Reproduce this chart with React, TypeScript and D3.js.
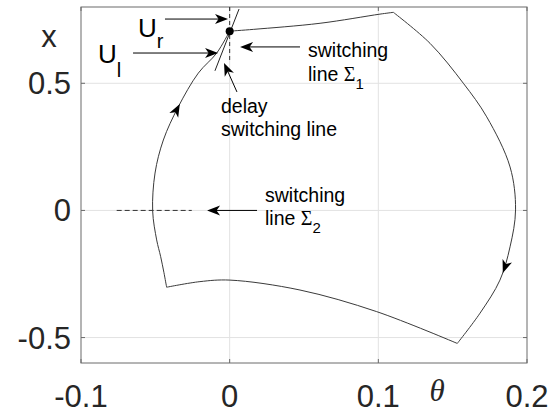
import React, { useEffect, useRef } from "react";
import * as d3 from "d3";

const W = 554;
const H = 419;

const xTicks = [-0.1, 0, 0.1, 0.2];
const xTickLabels = ["-0.1", "0", "0.1", "0.2"];
const yTicks = [-0.5, 0, 0.5];
const yTickLabels = ["-0.5", "0", "0.5"];

// trajectory segments (theta, x)
const leftArcTheta = [-0.0424, -0.0442, -0.0464, -0.0491, -0.0518, -0.0502, -0.0446, -0.0346, -0.0211, -0.0087, 0];
const leftArcX = [-0.302, -0.245, -0.182, -0.116, -0.002, 0.147, 0.277, 0.407, 0.54, 0.619, 0.705];
const topTheta = [0, 0.0159, 0.0608, 0.1011, 0.1101];
const topX = [0.705, 0.712, 0.736, 0.772, 0.779];
const rightArcTheta = [0.1101, 0.1348, 0.1572, 0.1729, 0.1886, 0.1923, 0.1886, 0.1818, 0.1684, 0.1531];
const rightArcX = [0.779, 0.657, 0.5, 0.368, 0.171, 0.002, -0.143, -0.274, -0.404, -0.523];
const bottomTheta = [0.1531, 0.0989, 0.0473, 0.0002, -0.02, -0.0424];
const bottomX = [-0.523, -0.398, -0.313, -0.274, -0.28, -0.302];

// flow direction arrowheads on the trajectory (segment index, tip position)
const flowSeg = [0, 2];
const flowTheta = [-0.0339, 0.1841];
const flowX = [0.421, -0.247];

// switching point
const pointTheta = [0];
const pointX = [0.705];

// switching lines
const sigma1Theta = [0, 0];
const sigma1X = [0.8, 0.58];
const sigma2Theta = [-0.076, -0.0255];
const sigma2X = [0, 0];
const delayTheta = [-0.0099, 0.0063];
const delayX = [0.549, 0.792];

// annotation arrows [tailTheta, tailX, tipTheta, tipX]
const annTailTheta = [-0.0435, -0.065, 0.0049, 0.0473, 0.0184];
const annTailX = [0.7526, 0.619, 0.466, 0.643, 0];
const annTipTheta = [-0.0011, -0.0078, -0.0038, 0.007, -0.0152];
const annTipX = [0.7526, 0.619, 0.58, 0.643, 0];

const FONT = "'Liberation Sans', Arial, Helvetica, sans-serif";
const SERIF = "'Liberation Serif', 'Times New Roman', serif";

export default function App() {
  const ref = useRef<SVGSVGElement>(null);

  useEffect(() => {
    const svg = d3.select(ref.current);
    svg.selectAll("*").remove();

    const left = 81, right = 527, top = 7, bottom = 363;
    const xs = d3.scaleLinear().domain([-0.1, 0.2]).range([left, right]);
    const ys = d3.scaleLinear().domain([-0.6, 0.8]).range([bottom, top]);

    svg.append("rect").attr("x", 0).attr("y", 0).attr("width", W).attr("height", H).attr("fill", "#fff");

    // grid
    const grid = svg.append("g").attr("stroke", "#e2e2e2").attr("stroke-width", 1);
    xTicks.slice(1, -1).forEach((t) => {
      grid.append("line").attr("x1", xs(t)).attr("x2", xs(t)).attr("y1", top).attr("y2", bottom);
    });
    yTicks.forEach((t) => {
      grid.append("line").attr("x1", left).attr("x2", right).attr("y1", ys(t)).attr("y2", ys(t));
    });

    // box
    svg.append("rect").attr("x", left).attr("y", top).attr("width", right - left).attr("height", bottom - top)
      .attr("fill", "none").attr("stroke", "#6a6a6a").attr("stroke-width", 1);

    // ticks inside
    const tk = svg.append("g").attr("stroke", "#6a6a6a").attr("stroke-width", 1);
    xTicks.forEach((t) => {
      tk.append("line").attr("x1", xs(t)).attr("x2", xs(t)).attr("y1", bottom).attr("y2", bottom - 4);
      tk.append("line").attr("x1", xs(t)).attr("x2", xs(t)).attr("y1", top).attr("y2", top + 4);
    });
    yTicks.forEach((t) => {
      tk.append("line").attr("x1", left).attr("x2", left + 4).attr("y1", ys(t)).attr("y2", ys(t));
      tk.append("line").attr("x1", right).attr("x2", right - 4).attr("y1", ys(t)).attr("y2", ys(t));
    });

    // tick labels
    xTicks.forEach((t, i) => {
      svg.append("text").attr("x", xs(t)).attr("y", 407).attr("text-anchor", "middle")
        .attr("font-family", FONT).attr("font-size", 31).attr("fill", "#262626").text(xTickLabels[i]);
    });
    yTicks.forEach((t, i) => {
      svg.append("text").attr("x", 71).attr("y", ys(t) + 11).attr("text-anchor", "end")
        .attr("font-family", FONT).attr("font-size", 31).attr("fill", "#262626").text(yTickLabels[i]);
    });

    // axis labels
    svg.append("text").attr("x", 49).attr("y", 47).attr("text-anchor", "middle")
      .attr("font-family", FONT).attr("font-size", 31).attr("fill", "#262626").text("x");
    svg.append("text").attr("x", 437).attr("y", 401).attr("text-anchor", "middle")
      .attr("font-family", SERIF).attr("font-style", "italic").attr("font-size", 31).attr("fill", "#262626").text("θ");

    // trajectory
    const line = d3.line<[number, number]>().x((d) => xs(d[0])).y((d) => ys(d[1])).curve(d3.curveCatmullRom.alpha(0.5));
    const segs: [number[], number[]][] = [
      [leftArcTheta, leftArcX],
      [topTheta, topX],
      [rightArcTheta, rightArcX],
      [bottomTheta, bottomX],
    ];
    const paths: SVGPathElement[] = [];
    segs.forEach(([th, xv]) => {
      const pts = th.map((t, i) => [t, xv[i]] as [number, number]);
      const p = svg.append("path").attr("d", line(pts)).attr("fill", "none")
        .attr("stroke", "#3a3a3a").attr("stroke-width", 1);
      paths.push(p.node() as SVGPathElement);
    });

    const head = (tx: number, ty: number, ang: number) => {
      const L = 13, Wd = 10, N = 3.5;
      svg.append("path")
        .attr("d", `M0,0 L${-L},${Wd / 2} L${-L + N},0 L${-L},${-Wd / 2} Z`)
        .attr("transform", `translate(${tx},${ty}) rotate(${(ang * 180) / Math.PI})`)
        .attr("fill", "#000");
    };

    // flow arrows on trajectory
    flowSeg.forEach((si, k) => {
      const p = paths[si];
      const len = p.getTotalLength();
      const tx = xs(flowTheta[k]), ty = ys(flowX[k]);
      let best = 0, bd = Infinity;
      for (let l = 0; l <= len; l += 0.5) {
        const q = p.getPointAtLength(l);
        const d = (q.x - tx) ** 2 + (q.y - ty) ** 2;
        if (d < bd) { bd = d; best = l; }
      }
      const a = p.getPointAtLength(Math.max(0, best - 3));
      const b = p.getPointAtLength(Math.min(len, best + 3));
      const q = p.getPointAtLength(best);
      head(q.x, q.y, Math.atan2(b.y - a.y, b.x - a.x));
    });

    // switching lines
    svg.append("line").attr("x1", xs(sigma1Theta[0])).attr("x2", xs(sigma1Theta[1]))
      .attr("y1", ys(sigma1X[0])).attr("y2", ys(sigma1X[1]))
      .attr("stroke", "#333").attr("stroke-width", 1).attr("stroke-dasharray", "4,3");
    svg.append("line").attr("x1", xs(sigma2Theta[0])).attr("x2", xs(sigma2Theta[1]))
      .attr("y1", ys(sigma2X[0])).attr("y2", ys(sigma2X[1]))
      .attr("stroke", "#333").attr("stroke-width", 1).attr("stroke-dasharray", "5,3");
    svg.append("line").attr("x1", xs(delayTheta[0])).attr("x2", xs(delayTheta[1]))
      .attr("y1", ys(delayX[0])).attr("y2", ys(delayX[1]))
      .attr("stroke", "#222").attr("stroke-width", 1);

    // switching point
    pointTheta.forEach((t, i) => {
      svg.append("circle").attr("cx", xs(t)).attr("cy", ys(pointX[i])).attr("r", 4).attr("fill", "#000");
    });

    // annotation arrows
    annTailTheta.forEach((t, i) => {
      const x1 = xs(t), y1 = ys(annTailX[i]);
      const x2 = xs(annTipTheta[i]), y2 = ys(annTipX[i]);
      const ang = Math.atan2(y2 - y1, x2 - x1);
      svg.append("line").attr("x1", x1).attr("y1", y1)
        .attr("x2", x2 - Math.cos(ang) * 6).attr("y2", y2 - Math.sin(ang) * 6)
        .attr("stroke", "#000").attr("stroke-width", 1);
      head(x2, y2, ang);
    });

    // annotation texts
    const txt = (x: number, y: number, s: string, size = 19.5) =>
      svg.append("text").attr("x", x).attr("y", y).attr("font-family", FONT)
        .attr("font-size", size).attr("fill", "#000").text(s);

    // U_r
    const ur = svg.append("text").attr("x", 138).attr("y", 37).attr("font-family", FONT).attr("fill", "#000");
    ur.append("tspan").attr("font-size", 26).text("U");
    ur.append("tspan").attr("font-size", 20).attr("dy", 11).text("r");
    // U_l
    const ul = svg.append("text").attr("x", 98).attr("y", 63).attr("font-family", FONT).attr("fill", "#000");
    ul.append("tspan").attr("font-size", 26).text("U");
    ul.append("tspan").attr("font-size", 20).attr("dy", 14).text("l");

    txt(308, 57, "switching");
    const s1 = svg.append("text").attr("x", 308).attr("y", 81).attr("font-family", FONT).attr("font-size", 19.5).attr("fill", "#000");
    s1.append("tspan").text("line ");
    s1.append("tspan").attr("font-family", SERIF).attr("font-size", 20).text("Σ");
    s1.append("tspan").attr("font-size", 15).attr("dy", 8).text("1");

    txt(221, 113, "delay");
    txt(221, 136, "switching line");

    txt(265, 202, "switching");
    const s2 = svg.append("text").attr("x", 265).attr("y", 225).attr("font-family", FONT).attr("font-size", 19.5).attr("fill", "#000");
    s2.append("tspan").text("line ");
    s2.append("tspan").attr("font-family", SERIF).attr("font-size", 20).text("Σ");
    s2.append("tspan").attr("font-size", 15).attr("dy", 8).text("2");
  }, []);

  return (
    <svg
      ref={ref}
      width={W}
      height={H}
      style={{ position: "absolute", left: 0, top: 0, display: "block" }}
    />
  );
}
